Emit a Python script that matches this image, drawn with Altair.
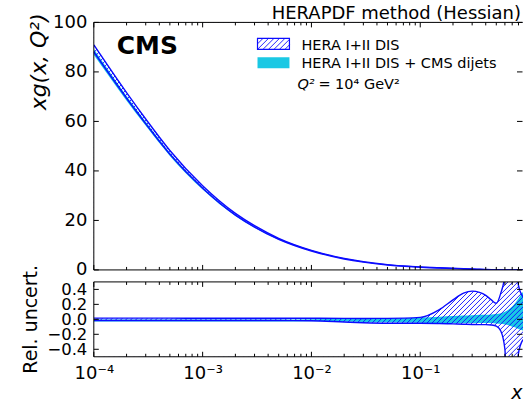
import altair as alt
import numpy as np
import pandas as pd

# ---------------- values ----------------
X = [1e-4, 2e-4, 3e-4, 5e-4, 1e-3, 2e-3, 3e-3, 5e-3, 1e-2, 2e-2, 3e-2, 5e-2,
     0.1, 0.15, 0.2, 0.25, 0.3, 0.35, 0.4, 0.45, 0.5, 0.55, 0.6, 0.65, 0.7,
     0.75, 0.8, 0.88]
XG_CENTRAL = [89.5, 70.5, 60.0, 47.5, 33.5, 22.5, 17.6, 12.6, 7.8, 4.6, 3.3, 2.1,
              1.15, 0.77, 0.55, 0.4, 0.3, 0.21, 0.15, 0.1, 0.065, 0.04, 0.022,
              0.01, 0.004, 0.0015, 0.0006, 0.0002]
HERA_REL_HI = [0.016, 0.016, 0.016, 0.016, 0.015, 0.015, 0.015, 0.015, 0.015,
               0.013, 0.012, 0.013,
               0.026, 0.13, 0.26, 0.35, 0.377, 0.36, 0.32, 0.26, 0.215, 0.35,
               0.6, 2.0, 2.0, 1.0, 0.45, 0.3]
HERA_REL_LO = [-0.016, -0.016, -0.016, -0.016, -0.015, -0.015, -0.015, -0.016,
               -0.018, -0.035, -0.045, -0.052,
               -0.053, -0.055, -0.06, -0.065, -0.068, -0.07, -0.07, -0.075,
               -0.09, -0.155, -0.4, -2.0, -2.0, -1.0, -0.45, -0.27]
CMS_REL_HI = [-0.003, -0.003, -0.003, -0.003, -0.003, -0.003, -0.003, -0.003,
              0.0, 0.003, 0.005, 0.01,
              0.025, 0.035, 0.045, 0.05, 0.055, 0.06, 0.06, 0.065, 0.07, 0.08,
              0.1, 0.13, 0.17, 0.22, 0.28, 0.37]
CMS_REL_LO = [-0.03, -0.03, -0.03, -0.03, -0.03, -0.03, -0.03, -0.03,
              -0.025, -0.03, -0.035, -0.04,
              -0.045, -0.05, -0.05, -0.05, -0.05, -0.05, -0.05, -0.05, -0.055,
              -0.06, -0.07, -0.08, -0.1, -0.11, -0.13, -0.15]
for arr in (XG_CENTRAL, HERA_REL_HI, HERA_REL_LO, CMS_REL_HI, CMS_REL_LO):
    assert len(arr) == len(X)

X_MAJOR = [1e-4, 1e-3, 1e-2, 1e-1]
X_TICK_LABELS = ["10⁻⁴", "10⁻³", "10⁻²", "10⁻¹"]
X_MINOR = [k * 10.0 ** e for e in (-4, -3, -2, -1) for k in range(2, 10)
           if k * 10.0 ** e < 0.88]
TOP_YTICKS = [0, 20, 40, 60, 80, 100]
BOT_YTICKS = [-0.4, -0.2, 0.0, 0.2, 0.4]

TITLE = "HERAPDF method (Hessian)"
LEG1 = "HERA I+II DIS"
LEG2 = "HERA I+II DIS + CMS dijets"

# ---------------- style ----------------
FONT = "DejaVu Sans"
BLUE = "#0b0bff"
CYAN = "#1ac8e4"
W, H1, H2, GAP = 430, 248, 75, 12
XMIN, XMAX = 1e-4, 0.88

xs = alt.Scale(type="log", domain=[XMIN, XMAX], nice=False)
U = alt.Undefined


def one():
    return alt.Chart(pd.DataFrame({"d": [0]}))


def band_table(absolute, ymin, ymax):
    c = np.array(XG_CENTRAL)

    def conv(rel):
        rel = np.array(rel)
        return c * (1 + rel) if absolute else rel
    hi, lo = conv(HERA_REL_HI), conv(HERA_REL_LO)
    chi, clo = conv(CMS_REL_HI), conv(CMS_REL_LO)
    t = pd.DataFrame({"x": X, "hi": hi, "lo": lo, "chi": chi, "clo": clo})
    t["ymin"], t["ymax"] = ymin, ymax
    # parts of the cyan band lying outside the hatched band
    t["cb_lo"] = clo
    t["cb_hi"] = np.maximum(clo, np.minimum(chi, lo))
    t["ca_hi"] = chi
    t["ca_lo"] = np.minimum(chi, np.maximum(clo, hi))
    return t


def hatch_table(height, ymin, ymax, spacing=5.0):
    lmin, lmax = np.log10(XMIN), np.log10(XMAX)
    ppd = W / (lmax - lmin)
    rows = []
    for p in np.arange(-height, W + spacing, spacing):
        rows.append({"x": 10 ** (lmin + p / ppd),
                     "x2": 10 ** (lmin + (p + height) / ppd),
                     "y": ymin, "y2": ymax})
    return pd.DataFrame(rows)


def panel(tab, ymin, ymax, H, yticks, yaxes, xaxis, y_independent=False):
    ys = alt.Scale(domain=[ymin, ymax], nice=False, zero=False)
    base = alt.Chart(tab)
    ydef = None if y_independent else U

    def ex(axis=U):
        return alt.X("x:Q", scale=xs, axis=axis)

    def ey(f, axis=ydef):
        return alt.Y(f"{f}:Q", scale=ys, axis=axis)

    area = dict(opacity=1, interpolate="monotone", clip=True)
    L = []
    # axis carriers (first layers, so their explicit axis settings win)
    for i, ya in enumerate(yaxes):
        L.append(base.mark_point(opacity=0, size=1).encode(
            x=ex(xaxis if i == 0 else U), y=ey("lo", ya)))
    L.append(base.mark_area(color=CYAN, **area).encode(
        x=ex(), y=ey("clo"), y2=alt.Y2("chi")))
    L.append(alt.Chart(hatch_table(H, ymin, ymax)).mark_rule(
        color=BLUE, strokeWidth=0.9, clip=True).encode(
        x=ex(), x2=alt.X2("x2"), y=ey("y"), y2=alt.Y2("y2")))
    L.append(base.mark_area(color="white", **area).encode(
        x=ex(), y=ey("hi"), y2=alt.Y2("ymax")))
    L.append(base.mark_area(color="white", **area).encode(
        x=ex(), y=ey("ymin"), y2=alt.Y2("lo")))
    L.append(base.mark_area(color=CYAN, **area).encode(
        x=ex(), y=ey("cb_lo"), y2=alt.Y2("cb_hi")))
    L.append(base.mark_area(color=CYAN, **area).encode(
        x=ex(), y=ey("ca_lo"), y2=alt.Y2("ca_hi")))
    for f in ("hi", "lo"):
        L.append(base.mark_line(color=BLUE, strokeWidth=1.4,
                                interpolate="monotone", clip=True).encode(
            x=ex(), y=ey(f)))
    # inward ticks
    tk = dict(color="black", strokeWidth=1)
    for vals, ln in ((X_MAJOR, 5), (X_MINOR, 3)):
        src = alt.Chart(pd.DataFrame({"t": vals}))
        tx = alt.X("t:Q", scale=xs)
        L.append(src.mark_rule(**tk).encode(x=tx, y=alt.value(0), y2=alt.value(ln)))
        L.append(src.mark_rule(**tk).encode(x=tx, y=alt.value(H - ln), y2=alt.value(H)))
    ty = alt.Chart(pd.DataFrame({"v": yticks}))
    L.append(ty.mark_rule(**tk).encode(
        y=alt.Y("v:Q", scale=ys, axis=ydef), x=alt.value(0), x2=alt.value(5)))
    L.append(ty.mark_rule(**tk).encode(
        y=alt.Y("v:Q", scale=ys, axis=ydef), x=alt.value(W - 6), x2=alt.value(W - 0.5)))
    # frame (left, top, bottom)
    L.append(one().mark_rule(**tk).encode(x=alt.value(0), x2=alt.value(W - 0.5), y=alt.value(0)))
    L.append(one().mark_rule(**tk).encode(x=alt.value(0), x2=alt.value(W - 0.5), y=alt.value(H)))
    L.append(one().mark_rule(**tk).encode(x=alt.value(0), y=alt.value(0), y2=alt.value(H)))
    return L


def text(s, x, y, size, **kw):
    align = kw.pop("align", "left")
    return one().mark_text(text=s, font=FONT, fontSize=size, align=align,
                           baseline="alphabetic", color="black", **kw).encode(
        x=alt.value(x), y=alt.value(y))


def swatch_hatch(x0, x1, y0, y1, spacing=5.5):
    h = y1 - y0
    out = []
    p = x0 - h
    while p < x1:
        a, b = max(x0, p), min(x1, p + h)
        if b > a:
            out.append(one().mark_rule(color=BLUE, strokeWidth=0.9).encode(
                x=alt.value(a), x2=alt.value(b),
                y=alt.value(y1 - (a - p)), y2=alt.value(y1 - (b - p))))
        p += spacing
    return out


lab = dict(labelFont=FONT, labelColor="black",
           ticks=False, domain=False, grid=False, zindex=1,
           labelOverlap=False, titleFont=FONT, titleColor="black",
           titleFontWeight="normal")

top_yaxis = alt.Axis(values=TOP_YTICKS, format="d", labelPadding=7, labelFontSize=18,
                     title="xg(x, Q²)", titleFontSize=22, titleFontStyle="italic",
                     titleAngle=270, titleAlign="center", titleBaseline="alphabetic",
                     titleX=-48, titleY=39, **lab)
# the lower-panel labels sit very close together (as in the original), so they
# are split over two left axes to keep every one of them visible
bot_yaxis_a = alt.Axis(values=BOT_YTICKS[::2], format=".1f", labelPadding=7,
                       labelFontSize=16.5, orient="left", title="Rel. uncert.",
                       titleFontSize=19, titleAngle=270, titleAlign="center",
                       titleBaseline="alphabetic", titleX=-57.5, titleY=37, **lab)
bot_yaxis_b = alt.Axis(values=BOT_YTICKS[1::2], format=".1f", labelPadding=7,
                       labelFontSize=16.5, orient="left", title=None, **lab)
expr = " : ".join(
    f"datum.value < {v * 5} ? '{t}'" for v, t in zip(X_MAJOR[:-1], X_TICK_LABELS[:-1])
) + f" : '{X_TICK_LABELS[-1]}'"
bot_xaxis = alt.Axis(values=X_MAJOR, labelExpr=expr, labelPadding=8, labelFontSize=18,
                     labelFlush=False, title="x", titleFontSize=19,
                     titleFontStyle="italic", titleX=W - 1, titleY=42,
                     titleAlign="right", titleBaseline="alphabetic", **lab)

top_layers = panel(band_table(True, 0, 100), 0, 100, H1, TOP_YTICKS,
                   [top_yaxis], None)
# legend and annotations
top_layers.append(one().mark_rect(fill="white", stroke=BLUE, strokeWidth=1.2).encode(
    x=alt.value(164), x2=alt.value(196), y=alt.value(16), y2=alt.value(27)))
top_layers += swatch_hatch(164, 196, 16, 27)
top_layers.append(one().mark_rect(fill=CYAN).encode(
    x=alt.value(164), x2=alt.value(196), y=alt.value(35), y2=alt.value(46)))
top_layers.append(text(LEG1, 208, 28, 14.5))
top_layers.append(text(LEG2, 208, 46, 14.5))
top_layers.append(text("Q²", 204, 67, 14.5, fontStyle="italic"))
top_layers.append(text("= 10⁴ GeV²", 225, 67, 14.5))
top_layers.append(text("CMS", 23, 32, 25, fontWeight="bold"))
top_layers.append(text(TITLE, W - 2, -3, 18, align="right"))
# invisible anchor fixing the plot origin in the page
top_layers.append(one().mark_rule(color="white", strokeWidth=1).encode(
    x=alt.value(-93.5), x2=alt.value(-93.5), y=alt.value(-21.5), y2=alt.value(-21.5)))

top = alt.layer(*top_layers).properties(width=W, height=H1)
bot = (alt.layer(*panel(band_table(False, -0.5, 0.5), -0.5, 0.5, H2, BOT_YTICKS,
                        [bot_yaxis_a, bot_yaxis_b], bot_xaxis, y_independent=True))
       .resolve_axis(y="independent")
       .properties(width=W, height=H2))

chart = (alt.vconcat(top, bot, spacing=GAP, bounds="flush")
         .properties(padding=0, background="white")
         .configure_view(stroke=None))

chart.save("out.html", embed_options={"renderer": "svg", "actions": False})
